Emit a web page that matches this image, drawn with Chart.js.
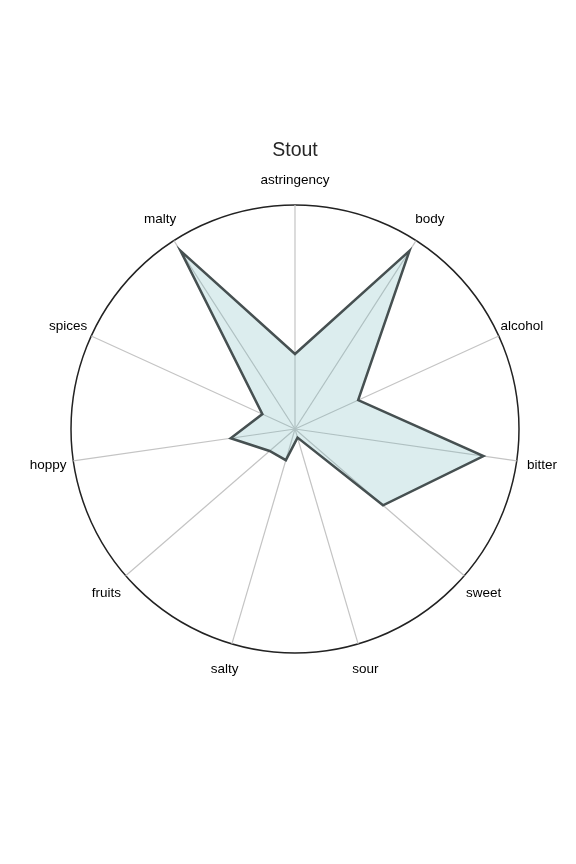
<!DOCTYPE html>
<html>
<head>
<meta charset="utf-8">
<script src="https://cdn.jsdelivr.net/npm/chart.js@4/dist/chart.umd.min.js"></script>
<style>
  html, body { margin: 0; padding: 0; background: #fff; }
  #wrap { width: 576px; height: 864px; }
</style>
</head>
<body>
<div id="wrap"><canvas id="canvas_radar" width="576" height="864"></canvas></div>
<script>
var categories = ['astringency', 'body', 'alcohol', 'bitter', 'sweet', 'sour', 'salty', 'fruits', 'hoppy', 'spices', 'malty'];
var stoutValues = [0.335, 0.945, 0.31, 0.85, 0.52, 0.04, 0.145, 0.15, 0.29, 0.16, 0.945];
var scaleMin = 0;
var scaleMax = 1;

// labels centred on a ring just outside the outer circle
var ringLabels = {
    id: 'ringLabels',
    afterDraw: function(chart) {
        var scale = chart.scales.r;
        var ctx = chart.ctx;
        ctx.save();
        ctx.font = "13.5px 'Liberation Sans', Arial, sans-serif";
        ctx.fillStyle = '#000';
        ctx.textAlign = 'center';
        ctx.textBaseline = 'middle';
        for (var i = 0; i < categories.length; i++) {
            var p = scale.getPointPosition(i, scale.drawingArea + 25.5);
            ctx.fillText(categories[i], p.x, p.y + 0.5);
        }
        ctx.restore();
    }
};

var ctx = document.getElementById('canvas_radar').getContext('2d');
new Chart(ctx, {
    type: 'radar',
    data: {
        labels: categories,
        datasets: [{
            label: 'Stout',
            data: stoutValues,
            backgroundColor: 'rgba(115,183,187,0.25)',
            borderColor: '#465051',
            borderWidth: 2.5,
            borderJoinStyle: 'miter',
            pointRadius: 0,
            pointHoverRadius: 0,
            tension: 0,
            fill: true
        }]
    },
    options: {
        responsive: false,
        animation: false,
        layout: { padding: { left: 71, right: 57, top: 0, bottom: 210 } },
        plugins: {
            legend: { display: false },
            tooltip: { enabled: false },
            title: {
                display: true,
                text: 'Stout',
                color: '#262626',
                font: { family: "'Liberation Sans', Arial, sans-serif", size: 19.5, weight: 'normal', lineHeight: 1.2 },
                padding: { top: 139, bottom: 43 }
            }
        },
        scales: {
            r: {
                min: scaleMin,
                max: scaleMax,
                ticks: { display: false, stepSize: 1 },
                pointLabels: { display: false },
                angleLines: { color: '#c4c4c4', lineWidth: 1.2 },
                grid: {
                    circular: true,
                    color: function(c) { return c.tick && c.tick.value === scaleMax ? '#222222' : 'rgba(0,0,0,0)'; },
                    lineWidth: 1.5
                }
            }
        }
    },
    plugins: [ringLabels]
});
</script>
</body>
</html>
